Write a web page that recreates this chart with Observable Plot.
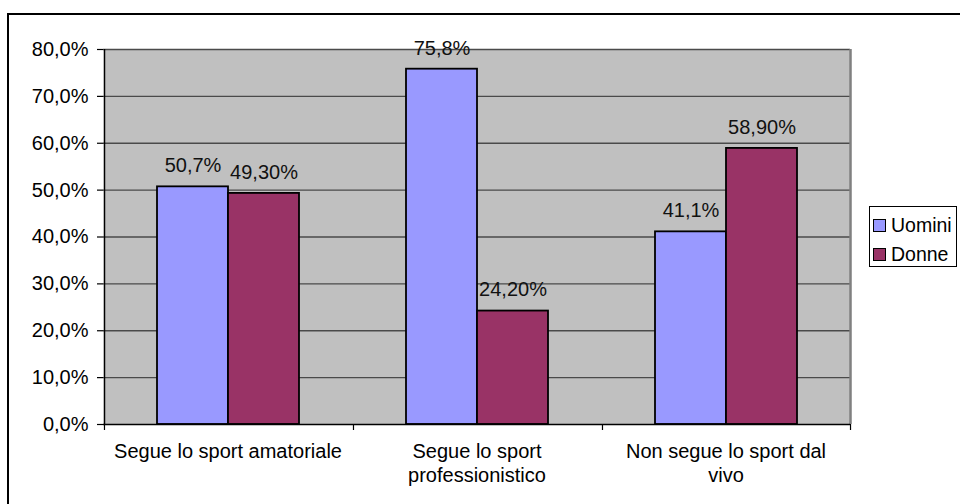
<!DOCTYPE html>
<html>
<head>
<meta charset="utf-8">
<script src="https://cdn.jsdelivr.net/npm/d3@7"></script>
<script src="https://cdn.jsdelivr.net/npm/@observablehq/plot@0.6"></script>
<style>
  html, body { margin: 0; padding: 0; background: #fff; }
  #wrap { position: relative; width: 960px; height: 504px; overflow: hidden; font-family: "Liberation Sans", Arial, sans-serif; }
  #border { position: absolute; left: 7px; top: 13px; width: 2000px; height: 2000px; border: 2px solid #000; pointer-events: none; z-index: 2; }
  #legend { position: absolute; left: 869px; top: 206px; width: 88px; height: 61px; border: 1px solid #000; background: #fff; z-index: 3; box-sizing: border-box; padding-top: 4px; }
  .item { display: flex; align-items: center; height: 29px; font-size: 19.5px; color: #000; }
  .sw { width: 11px; height: 11px; border: 1.5px solid #000; margin: 0 5px 0 3px; }
</style>
</head>
<body>
<div id="wrap">
  <div id="border"></div>
  <div id="chart"></div>
  <div id="legend"></div>
</div>
<script>
// Categories, on the x axis (with line-broken labels)
const categories = ["Segue lo sport amatoriale", "Segue lo sport professionistico", "Non segue lo sport dal vivo"];
const categoryLabels = ["Segue lo sport amatoriale", "Segue lo sport\nprofessionistico", "Non segue lo sport dal\nvivo"];

// Series
const series = ["Uomini", "Donne"];
const seriesColors = ["#9999FF", "#993366"];
const seriesDecimals = [1, 2];

// Percentages per category
const uomini = [50.7, 75.8, 41.1];
const donne = [49.3, 24.2, 58.9];

// Y ticks
const yTicks = [0, 10, 20, 30, 40, 50, 60, 70, 80];

const rows = categories.flatMap((c, i) => [
  {category: c, series: series[0], value: uomini[i]},
  {category: c, series: series[1], value: donne[i]}
]);

const pct = (v, d) => v.toFixed(d).replace(".", ",") + "%";
const decimalsOf = s => seriesDecimals[series.indexOf(s)];

const W = 960, H = 504;
const mL = 103, mR = 110, mT = 49, mB = 80;
const pad = 0.73;
const facetW = (W - mL - mR) / categories.length;
const step = facetW / (series.length + 2 * pad);
const edge = step / 2 + pad * step; // from outer bar centre to facet edge
const FS = 20;

const firstSeries = () => series[0];
const lastSeries = () => series[series.length - 1];
const yZero = () => 0;
const yMax = () => yTicks[yTicks.length - 1];

const chart = Plot.plot({
  width: W,
  height: H,
  marginLeft: mL,
  marginRight: mR,
  marginTop: mT,
  marginBottom: mB,
  style: {fontFamily: "'Liberation Sans', Arial, sans-serif", fontSize: FS + "px", background: "transparent", color: "#000", overflow: "visible"},
  fx: {domain: categories, padding: 0, label: null},
  x: {domain: series, paddingInner: 0, paddingOuter: pad, axis: null},
  y: {domain: [0, 80], axis: null, label: null},
  color: {domain: series, range: seriesColors},
  marks: [
    Plot.frame({fill: "#C0C0C0", stroke: "none", shapeRendering: "crispEdges"}),
    Plot.ruleY(yTicks.filter(t => t > 0), {stroke: "#4a4a4a", strokeWidth: 1.3}),
    // right edge of the plot area
    Plot.ruleX([categories[categories.length - 1]], {fx: d => d, x: lastSeries, dx: edge, y1: yZero, y2: yMax, stroke: "#808080", strokeWidth: 2.5}),
    Plot.barY(rows, {fx: "category", x: "series", y: "value", fill: "series", stroke: "#000", strokeWidth: 1.8}),
    Plot.text(rows, {fx: "category", x: "series", y: "value", text: d => pct(d.value, decimalsOf(d.series)), dy: -21, fill: "#111", fontSize: FS}),
    // axis lines
    Plot.ruleY([0], {stroke: "#000", strokeWidth: 1.5}),
    Plot.ruleX([categories[0]], {fx: d => d, x: firstSeries, dx: -edge, y1: yZero, y2: yMax, stroke: "#000", strokeWidth: 1.5}),
    // category boundary ticks
    Plot.ruleX(categories, {fx: d => d, x: firstSeries, dx: -edge, y1: yZero, y2: yZero, insetBottom: -6, stroke: "#000", strokeWidth: 1.2}),
    Plot.ruleX([categories[categories.length - 1]], {fx: d => d, x: lastSeries, dx: edge, y1: yZero, y2: yZero, insetBottom: -6, stroke: "#000", strokeWidth: 1.2}),
    Plot.axisY({ticks: yTicks, tickFormat: d => pct(d, 1), tickSize: 6, tickPadding: 9, fontSize: FS, label: null, stroke: "#000", strokeWidth: 1.2}),
    Plot.axisFx({anchor: "bottom", tickSize: 0, tickPadding: 16, lineHeight: 1.2, fontSize: FS, label: null,
      tickFormat: d => categoryLabels[categories.indexOf(d)]})
  ]
});
document.getElementById("chart").appendChild(chart);

// Legend
const legend = document.getElementById("legend");
series.forEach((s, i) => {
  const item = document.createElement("div");
  item.className = "item";
  const sw = document.createElement("span");
  sw.className = "sw";
  sw.style.background = seriesColors[i];
  const label = document.createElement("span");
  label.textContent = s;
  item.appendChild(sw);
  item.appendChild(label);
  legend.appendChild(item);
});
</script>
</body>
</html>
